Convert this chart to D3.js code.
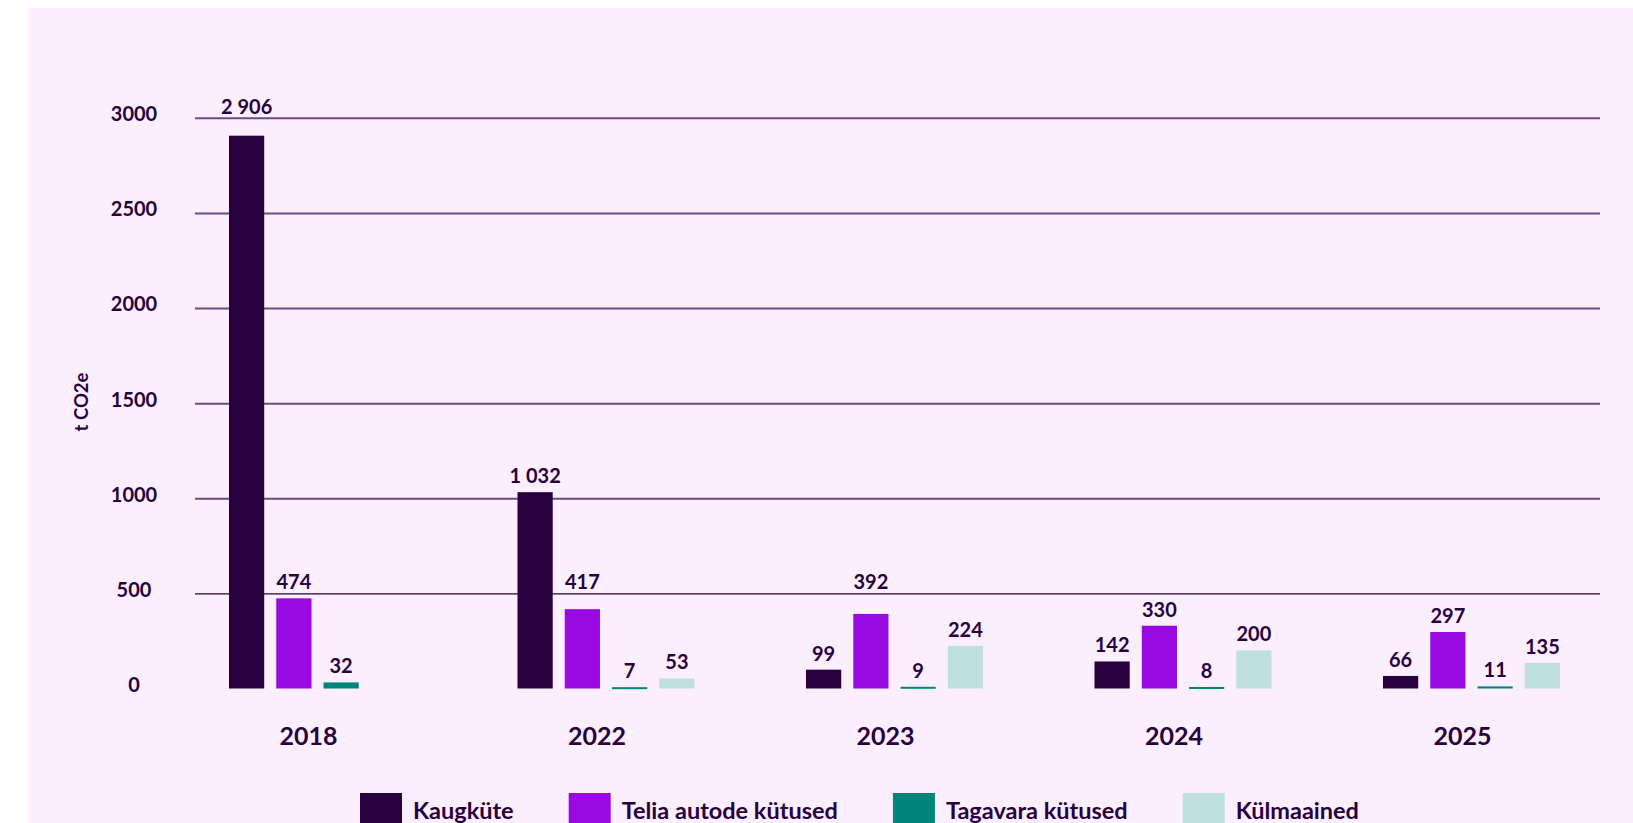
<!DOCTYPE html>
<html>
<head>
<meta charset="utf-8">
<script src="https://cdn.jsdelivr.net/npm/d3@7"></script>
<style>
  html, body { margin: 0; padding: 0; background: #ffffff; }
  svg { display: block; }
  text { font-family: Lato, "Open Sans", sans-serif; fill: #29003e; }
</style>
</head>
<body>
<svg id="chart" width="1633" height="823"></svg>
<script>
// ---- data ----
const years = ["2018", "2022", "2023", "2024", "2025"];
const seriesNames = ["Kaugküte", "Telia autode kütused", "Tagavara kütused", "Külmaained"];
const kaugkute   = [2906, 1032, 99, 142, 66];
const teliaAutod = [474, 417, 392, 330, 297];
const tagavara   = [32, 7, 9, 8, 11];
const kulmaained = [null, 53, 224, 200, 135];
const yTicks = [0, 500, 1000, 1500, 2000, 2500, 3000];
const yTitle = "t CO2e";

const seriesValues = [kaugkute, teliaAutod, tagavara, kulmaained];
const colors = ["#29003e", "#990ae3", "#00857a", "#c0dfdf"];

// ---- layout ----
const W = 1633, H = 823;
const gridLeft = 195, gridRight = 1600;
const svg = d3.select("#chart");

svg.append("rect").attr("x", 28).attr("y", 8).attr("width", W - 28).attr("height", H - 8)
  .attr("fill", "#fbeefd");

const y = d3.scaleLinear().domain([0, 3000]).range([688.5, 117.8]);
const x0 = d3.scaleBand().domain(years).range([229, 1560]).paddingInner(0.3865).paddingOuter(0);
const x1 = d3.scaleBand().domain(seriesNames).range([0, x0.bandwidth()]).paddingInner(0.255).paddingOuter(0);

// gridlines
const gridTicks = yTicks.filter(d => d > 0);
const grid = svg.append("g").attr("transform", `translate(${gridLeft},0)`)
  .call(d3.axisLeft(y).tickValues(gridTicks).tickSize(-(gridRight - gridLeft)).tickFormat(""));
grid.select(".domain").remove();
grid.selectAll(".tick line")
  .attr("stroke", d => d === 500 ? "#29003e" : "#6f4a80")
  .attr("stroke-width", d => d === 500 ? 1.4 : 2);

// y tick labels
const yAxis = svg.append("g").attr("transform", `translate(${gridLeft},0)`)
  .call(d3.axisLeft(y).tickValues(yTicks).tickSize(0).tickPadding(0).tickFormat(d3.format("d")));
yAxis.select(".domain").remove();
yAxis.selectAll(".tick text")
  .attr("x", -61).attr("dy", "0.32em").attr("y", -3.5)
  .attr("text-anchor", "middle")
  .style("font-family", "Lato, sans-serif")
  .style("font-size", "20px").style("font-weight", 700).style("fill", "#29003e");

// y title
svg.append("text")
  .attr("transform", `translate(88,402) rotate(-90)`)
  .attr("text-anchor", "middle")
  .style("font-size", "18.5px").style("font-weight", 700)
  .text(yTitle);

// bars
const fmt = d3.formatLocale({ decimal: ",", thousands: "\u00a0", grouping: [3], currency: ["", ""] }).format(",d");
const rows = [];
years.forEach((yr, i) => {
  seriesNames.forEach((s, j) => {
    const v = seriesValues[j][i];
    if (v !== null && v !== undefined) rows.push({ year: yr, series: s, value: v, color: colors[j] });
  });
});

const bars = svg.append("g");
bars.selectAll("rect").data(rows).join("rect")
  .attr("x", d => x0(d.year) + x1(d.series))
  .attr("width", x1.bandwidth())
  .attr("y", d => y(d.value))
  .attr("height", d => Math.max(2, y(0) - y(d.value)))
  .attr("fill", d => d.color);

// value labels: 9px above the bar, lifted above a gridline if they would cross it
function labelBaseline(v) {
  let b = Math.min(y(v), y(0) - 2) - 9;
  const top = b - 15;
  gridTicks.forEach(t => {
    const gy = y(t);
    if (gy > top && gy < b + 2) b = gy - 4;
  });
  return b;
}
bars.selectAll("text").data(rows).join("text")
  .attr("x", d => x0(d.year) + x1(d.series) + x1.bandwidth() / 2)
  .attr("y", d => labelBaseline(d.value))
  .attr("text-anchor", "middle")
  .style("font-size", "20px").style("font-weight", 700)
  .text(d => fmt(d.value));

// year labels
svg.append("g").selectAll("text").data(years).join("text")
  .attr("x", d => x0(d) + x0.bandwidth() / 2 - 9)
  .attr("y", 745)
  .attr("text-anchor", "middle")
  .style("font-size", "25px").style("font-weight", 700)
  .text(d => d);

// legend
const legend = svg.append("g");
let lx = 360;
seriesNames.forEach((s, j) => {
  legend.append("rect").attr("x", lx).attr("y", 793).attr("width", 42).attr("height", 42).attr("fill", colors[j]);
  const t = legend.append("text").attr("x", lx + 53).attr("y", 819)
    .style("font-size", "23.5px").style("font-weight", 700).text(s);
  lx += 53 + t.node().getComputedTextLength() + 55;
});
</script>
</body>
</html>
